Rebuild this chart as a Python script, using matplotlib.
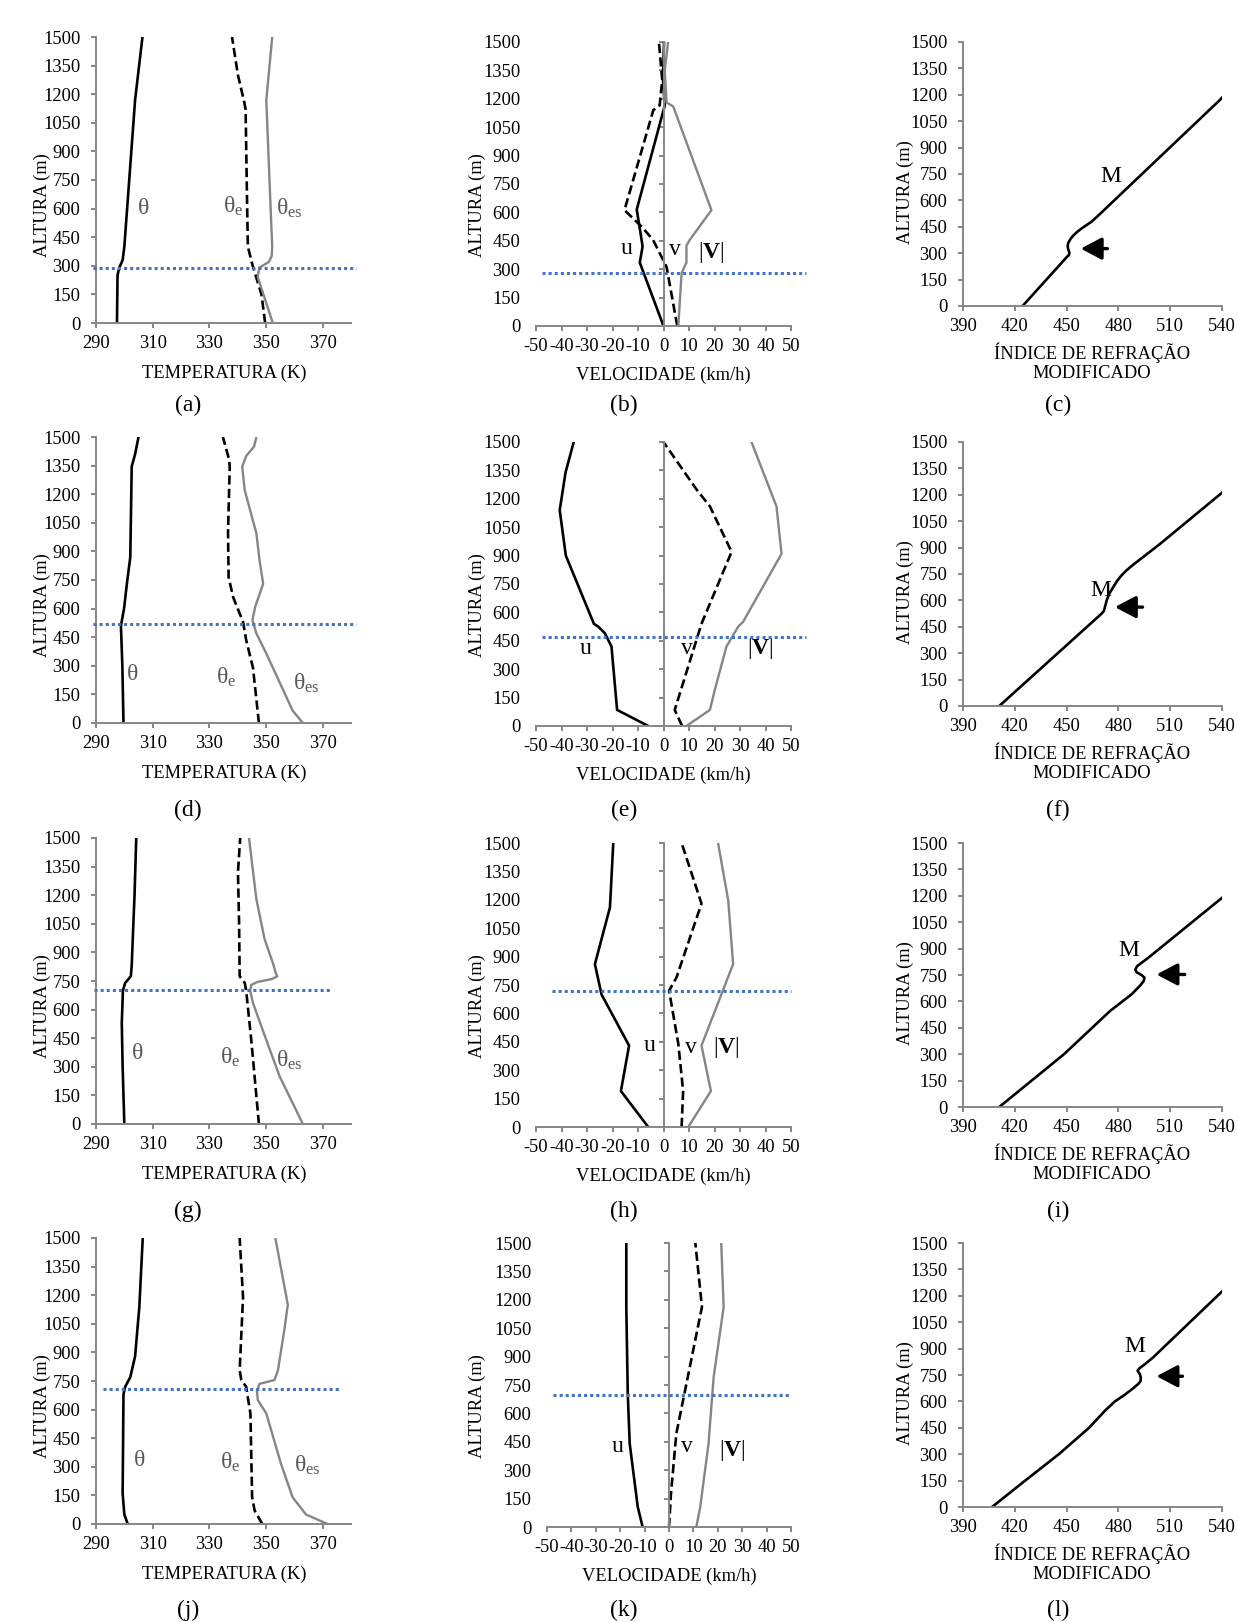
import matplotlib
matplotlib.use('Agg')
import matplotlib.pyplot as plt

plt.rcParams['font.family'] = ['Liberation Serif', 'DejaVu Serif']
plt.rcParams['mathtext.fontset'] = 'custom'
plt.rcParams['mathtext.rm'] = 'Liberation Serif'
plt.rcParams['mathtext.it'] = 'Liberation Serif'
plt.rcParams['mathtext.bf'] = 'Liberation Serif:bold'
plt.rcParams['axes.unicode_minus'] = False

W, H = 1238, 1622
AXIS_GRAY = '#868686'
LINE_GRAY = '#858585'
TXT_GRAY = '#5a5a5a'
BLUE = '#4472C4'

heights = list(range(0, 1501, 150))
temp_ticks = [290, 310, 330, 350, 370]
vel_ticks = list(range(-50, 51, 10))
m_ticks = [390, 420, 450, 480, 510, 540]
letters = [['(a)', '(b)', '(c)'], ['(d)', '(e)', '(f)'],
           ['(g)', '(h)', '(i)'], ['(j)', '(k)', '(l)']]

# altura da camada limite (linha azul), m
pbl_temp = [288, 519, 702, 706]
pbl_vel = [281, 468, 716, 697]

# perfis: (altura m, valor)
a_theta = [(0, 297.4), (250, 297.6), (290, 298.2), (330, 299.4), (400, 300.0), (1170, 303.8), (1500, 306.4)]
a_theta_e = [(0, 349.7), (150, 348.4), (300, 345.3), (400, 343.6), (650, 343.3), (1120, 342.8), (1160, 342.3),
             (1300, 340.1), (1500, 338.0)]
a_theta_es = [(0, 352.4), (240, 347.1), (290, 347.6), (320, 351.0), (350, 352.0), (400, 352.2), (650, 351.5),
              (1170, 350.1), (1200, 350.3), (1500, 352.2)]

d_theta = [(0, 299.7), (300, 299.3), (510, 298.8), (600, 299.9), (730, 300.9), (870, 302.1), (1345, 302.6),
           (1410, 303.8), (1500, 305.0)]
d_theta_e = [(0, 347.5), (290, 345.4), (435, 343.0), (530, 341.9), (660, 338.4), (765, 336.8), (1000, 336.6),
             (1345, 337.2), (1380, 337.0), (1500, 334.8)]
d_theta_es = [(0, 363.0), (65, 359.4), (365, 350.1), (470, 346.6), (540, 345.2), (610, 346.2), (730, 349.0),
              (855, 347.7), (995, 346.6), (1220, 342.5), (1345, 341.6), (1400, 343.0), (1450, 345.8), (1500, 346.6)]

g_theta = [(0, 300.0), (300, 299.4), (530, 299.1), (700, 299.5), (740, 300.3), (775, 302.3), (830, 302.6),
           (1055, 303.2), (1200, 303.6), (1500, 304.2)]
g_theta_e = [(0, 347.5), (440, 344.8), (700, 343.0), (740, 342.5), (775, 340.7), (1055, 340.5), (1320, 340.1),
             (1500, 340.9)]
g_theta_es = [(0, 363.0), (250, 354.8), (490, 348.9), (635, 345.4), (700, 344.4), (730, 344.8), (745, 347.0),
              (760, 352.0), (775, 354.0), (790, 353.5), (845, 352.4), (970, 349.5), (1180, 346.6), (1500, 344.0)]

j_theta = [(0, 301.2), (50, 300.0), (160, 299.4), (680, 299.7), (720, 300.3), (770, 302.1), (880, 303.8),
           (1140, 305.3), (1500, 306.5)]
j_theta_e = [(0, 348.7), (70, 346.0), (140, 345.1), (580, 344.5), (720, 343.0), (755, 341.3), (805, 340.7),
             (1190, 341.9), (1500, 340.7)]
j_theta_es = [(0, 371.7), (50, 364.1), (140, 359.4), (315, 355.3), (580, 350.1), (650, 347.1), (700, 346.8),
              (735, 347.7), (755, 353.0), (805, 354.2), (1020, 356.5), (1150, 357.7), (1500, 353.3)]

b_u = [(0, 0.0), (335, -9.3), (420, -8.2), (490, -9.0), (615, -10.5), (1165, 0.5), (1300, -0.2), (1500, 0.2)]
b_v = [(0, 5.4), (312, 1.2), (455, -4.1), (525, -8.6), (612, -15.3), (1140, -4.0), (1165, -1.5), (1300, -0.5),
       (1500, -1.8)]
b_vel = [(0, 5.8), (280, 7.1), (335, 9.0), (425, 9.0), (455, 10.3), (612, 18.8), (1160, 3.8), (1180, 1.2),
         (1350, 0.5), (1500, 1.8)]

e_u = [(0, -6.0), (85, -18.2), (420, -20.4), (490, -23.0), (525, -25.6), (540, -27.3), (900, -38.3),
       (1140, -40.7), (1340, -38.4), (1500, -35.2)]
e_v = [(0, 7.3), (85, 4.4), (540, 14.9), (920, 26.7), (1160, 18.2), (1250, 12.9), (1500, 0.0)]
e_vel = [(0, 9.0), (85, 18.2), (190, 20.1), (420, 24.7), (525, 29.3), (550, 31.2), (910, 46.3), (1160, 44.3),
         (1500, 34.5)]

h_u = [(0, -6.0), (190, -16.7), (430, -13.5), (700, -24.3), (860, -26.9), (1160, -21.0), (1500, -19.7)]
h_v = [(0, 7.1), (190, 7.7), (440, 5.8), (720, 2.2), (790, 5.1), (1180, 14.9), (1500, 7.1)]
h_vel = [(0, 9.7), (190, 18.6), (430, 14.9), (860, 27.3), (1195, 25.4), (1500, 21.4)]

k_u = [(0, -10.8), (106, -12.8), (440, -16.1), (704, -16.9), (1162, -17.5), (1500, -17.5)]
k_v = [(0, 0.0), (176, 0.8), (493, 3.0), (1162, 13.5), (1500, 10.8)]
k_vel = [(0, 11.2), (106, 12.8), (440, 16.2), (792, 18.3), (1162, 22.4), (1500, 21.4)]

c_m = [(0, 424.5), (278, 450.1), (290, 451.4), (305, 451.6), (320, 451.0), (340, 450.6), (360, 451.0),
       (380, 452.2), (400, 453.8), (420, 456.0), (440, 458.6), (460, 461.6), (480, 464.6), (520, 469.0),
       (1170, 538.7), (1195, 541.0)]
f_m = [(0, 411.0), (525, 470.3), (540, 471.6), (600, 473.2), (640, 474.8), (675, 477.0), (710, 479.2),
       (740, 481.6), (770, 484.6), (800, 488.2), (920, 504.0), (1220, 541.0)]
i_m = [(0, 411.0), (300, 448.5), (545, 475.1), (640, 487.6), (690, 492.6), (715, 494.6), (735, 495.1),
       (750, 493.4), (765, 490.6), (780, 489.8), (800, 490.8), (825, 494.2), (855, 498.2), (1190, 540.2)]
l_m = [(0, 406.8), (150, 426.0), (300, 445.5), (450, 463.0), (550, 472.5), (600, 478.0), (640, 484.0),
       (675, 488.6), (700, 491.6), (715, 492.8), (735, 493.0), (755, 492.4), (775, 491.1), (790, 492.4),
       (810, 495.2), (850, 500.1), (1230, 540.6)]

temp_data = [(a_theta, a_theta_e, a_theta_es), (d_theta, d_theta_e, d_theta_es),
             (g_theta, g_theta_e, g_theta_es), (j_theta, j_theta_e, j_theta_es)]
vel_data = [(b_u, b_v, b_vel), (e_u, e_v, e_vel), (h_u, h_v, h_vel), (k_u, k_v, k_vel)]
m_data = [c_m, f_m, i_m, l_m]

# arrow heights (m) at the M inversion
m_arrow_h = [326, 562, 753, 743]
m_arrow_x = [(458.2, 473.6), (478.0, 494.0), (502.1, 518.4), (502.1, 517.1)]
m_label_xy = [(475.7, 733), (469.8, 657), (486.3, 889), (489.6, 914)]

temp_label_xy = [[(306.5, 601), (338.4, 610), (358.3, 601)],
                 [(302.6, 256), (336.0, 242), (364.1, 210)],
                 [(304.4, 370), (337.2, 352), (358.3, 334)],
                 [(305.3, 333), (337.2, 325), (364.7, 307)]]
vel_label_xy = [[(-14.5, 409), (4.4, 402), (18.8, 390)],
                [(-30.5, 409), (9.0, 409), (37.8, 409)],
                [(-5.4, 429), (10.6, 420), (24.7, 420)],
                [(-21.0, 423), (7.4, 423), (25.8, 405)]]
temp_blue_x = [(288.9, 381.6), (288.9, 381.6), (289.3, 373.2), (292.5, 376.0)]
vel_blue_x = [(-47.8, 56.0), (-47.6, 56.0), (-43.6, 50.0), (-47.7, 50.0)]

row_off = [0, 400, 801, 1201]

fig = plt.figure(figsize=(W / 100, H / 100), dpi=100)


def add_axes(left, top, right, bottom):
    return fig.add_axes([left / W, 1 - bottom / H, (right - left) / W, (bottom - top) / H])


def style_axes(ax, xlim, xticks):
    for s in ['top', 'right']:
        ax.spines[s].set_visible(False)
    for s in ['left', 'bottom']:
        ax.spines[s].set_color(AXIS_GRAY)
        ax.spines[s].set_linewidth(1.4)
    ax.set_xlim(*xlim)
    ax.set_xticks(xticks)
    ax.set_ylim(0, 1500)
    ax.set_yticks(heights)
    ax.tick_params(direction='out', length=3.6, width=1.4, color=AXIS_GRAY, labelsize=13.3)
    ax.tick_params(axis='x', pad=5)
    ax.tick_params(axis='y', pad=7.5)
    ax.patch.set_alpha(0)


def curve(ax, pts, color, lw, dashed=False):
    hh = [p[0] for p in pts]
    xx = [p[1] for p in pts]
    line, = ax.plot(xx, hh, color=color, lw=lw, solid_joinstyle='round', dash_joinstyle='round')
    if dashed:
        line.set_dashes((3.5, 1.6))
    return line


def blue_line(ax, h, x0, x1):
    ax.plot([x0, x1], [h, h], color=BLUE, lw=2.2, dashes=(1, 1), clip_on=False, zorder=5)


for r in range(4):
    off = row_off[r]

    # temperatura
    ax = add_axes(96, 37 + off, 351, 323 + off)
    style_axes(ax, (290, 380), temp_ticks)
    th, the, thes = temp_data[r]
    curve(ax, th, 'black', 1.9)
    curve(ax, the, 'black', 1.9, dashed=True)
    curve(ax, thes, LINE_GRAY, 1.7)
    blue_line(ax, pbl_temp[r], *temp_blue_x[r])
    labs = [r'$\theta$', r'$\theta_{\mathrm{e}}$', r'$\theta_{\mathrm{es}}$']
    for (x, y), t in zip(temp_label_xy[r], labs):
        ax.text(x, y, t, fontsize=17, color=TXT_GRAY, ha='center', va='center')
    fig.text(224 / W, 1 - (373 + off) / H, 'TEMPERATURA (K)', fontsize=13.3, ha='center', va='center')
    fig.text(42 / W, 1 - (205 + off) / H, 'ALTURA (m)', fontsize=13.3, rotation=90, ha='center', va='center')

    # velocidade
    left = 547 if r == 3 else 536
    ax = add_axes(left, 42 + off, 791, 326 + off)
    style_axes(ax, (-50, 50), vel_ticks)
    ax.spines['left'].set_position(('data', 0))
    dist_pt = (791 - left) * 0.5 * 0.72
    ax.tick_params(axis='y', pad=dist_pt + 7.5)
    u, v, vel = vel_data[r]
    curve(ax, u, 'black', 1.9)
    curve(ax, v, 'black', 1.9, dashed=True)
    curve(ax, vel, LINE_GRAY, 1.7)
    blue_line(ax, pbl_vel[r], *vel_blue_x[r])
    for (x, y), t in zip(vel_label_xy[r], ['u', 'v', r'$|\mathbf{V}|$']):
        ax.text(x, y, t, fontsize=17, color='black', ha='center', va='center')
    fig.text((left + 791) / 2 / W, 1 - (375 + off) / H, 'VELOCIDADE (km/h)', fontsize=13.3,
             ha='center', va='center')
    fig.text(477 / W, 1 - (205 + off) / H, 'ALTURA (m)', fontsize=13.3, rotation=90, ha='center', va='center')

    # indice de refracao modificado
    ax = add_axes(963, 42 + off, 1222, 306 + off)
    style_axes(ax, (390, 540), m_ticks)
    curve(ax, m_data[r], 'black', 1.9)
    ha = m_arrow_h[r]
    x_tip, x_tail = m_arrow_x[r]
    ax.annotate('', xy=(x_tip, ha), xytext=(x_tail, ha),
                arrowprops=dict(arrowstyle='-|>,head_length=0.85,head_width=0.45', color='black',
                                lw=2.4, mutation_scale=15, shrinkA=0, shrinkB=0))
    ax.text(*m_label_xy[r], 'M', fontsize=17, color='black', ha='center', va='center')
    fig.text(1092 / W, 1 - (362 + off) / H, 'ÍNDICE DE REFRAÇÃO\nMODIFICADO', fontsize=13.3,
             ha='center', va='center', linespacing=1.12)
    fig.text(905 / W, 1 - (192 + off) / H, 'ALTURA (m)', fontsize=13.3, rotation=90, ha='center', va='center')

    # letras dos paineis
    ly = 405 + [0, 405, 806, 1205][r]
    for cx, lab in zip([188, 624, 1058], letters[r]):
        fig.text(cx / W, 1 - ly / H, lab, fontsize=17, ha='center', va='center')

fig.savefig('out.png', dpi=100)
